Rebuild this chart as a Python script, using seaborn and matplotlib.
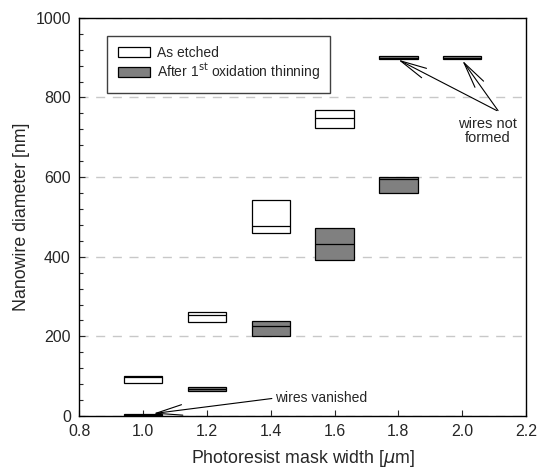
import pandas as pd
import seaborn as sns
import matplotlib.pyplot as plt
from matplotlib.patches import Patch
from matplotlib.ticker import MultipleLocator

# box values (q1, median, q3) in nm
etched_width = [1.0, 1.2, 1.4, 1.6]
etched_q1 = [84, 237, 459, 724]
etched_med = [97, 254, 476, 749]
etched_q3 = [100, 260, 543, 768]

oxid_width = [1.0, 1.2, 1.4, 1.6, 1.8]
oxid_q1 = [0, 63, 202, 391, 561]
oxid_med = [2, 68, 225, 431, 595]
oxid_q3 = [5, 74, 238, 473, 601]

notformed_width = [1.8, 2.0]
notformed_q1 = [897, 897]
notformed_med = [900, 900]
notformed_q3 = [903, 903]


def to_long(widths, q1, med, q3):
    # five points per box so that the quartiles land on q1 / median / q3
    rows = []
    for w, a, m, b in zip(widths, q1, med, q3):
        for v in [a, a, m, b, b]:
            rows.append({"width": w, "diameter": v})
    return pd.DataFrame(rows)


df_etched = to_long(etched_width, etched_q1, etched_med, etched_q3)
df_oxid = to_long(oxid_width, oxid_q1, oxid_med, oxid_q3)
df_nf = to_long(notformed_width, notformed_q1, notformed_med, notformed_q3)

sns.set_style("white")
plt.rcParams["font.family"] = ["Liberation Sans", "DejaVu Sans"]

fig = plt.figure(figsize=(5.38, 4.69), dpi=100)
ax = fig.add_axes([0.147, 0.113, 0.831, 0.849])

gray = "#808080"
box_kw = dict(x="width", y="diameter", native_scale=True, orient="x", width=0.6,
              linecolor="black", linewidth=0.9, whis=0, showcaps=False,
              showfliers=False, saturation=1, ax=ax)
sns.boxplot(data=df_etched, color="white", **box_kw)
sns.boxplot(data=df_oxid, color=gray, **box_kw)
sns.boxplot(data=df_nf, color=gray, **box_kw)

ax.set_xlim(0.8, 2.2)
ax.set_ylim(0, 1000)
ax.set_xticks([0.8, 1.0, 1.2, 1.4, 1.6, 1.8, 2.0, 2.2])
ax.set_xticklabels(["0.8", "1.0", "1.2", "1.4", "1.6", "1.8", "2.0", "2.2"])
ax.set_yticks([0, 200, 400, 600, 800, 1000])
ax.yaxis.set_minor_locator(MultipleLocator(40))
ax.tick_params(axis="both", which="major", direction="in", length=4, width=0.8,
               labelsize=11.5, left=True, bottom=True, pad=6)
ax.tick_params(axis="y", which="minor", direction="in", length=3, width=0.8, left=True)

ax.yaxis.grid(True, color="#c8c8c8", linestyle=(0, (6.5, 5.5)), linewidth=1)
ax.set_axisbelow(True)
for s in ax.spines.values():
    s.set_color("black")
    s.set_linewidth(1)

ax.set_xlabel("Photoresist mask width [$\\mu$m]", fontsize=12.8, labelpad=6)
ax.set_ylabel("Nanowire diameter [nm]", fontsize=12.8, labelpad=4)

handles = [Patch(facecolor="white", edgecolor="black", linewidth=0.9, label="As etched"),
           Patch(facecolor=gray, edgecolor="black", linewidth=0.9,
                 label="After 1$^{\\mathrm{st}}$ oxidation thinning")]
leg = ax.legend(handles=handles, loc="upper left", bbox_to_anchor=(0.063, 0.955),
                borderaxespad=0, fancybox=False, framealpha=1, fontsize=10,
                handlelength=2.3, handleheight=0.7, borderpad=0.75, labelspacing=0.1,
                handletextpad=0.5)
leg.get_frame().set_edgecolor("#404040")
leg.get_frame().set_linewidth(1)

arrow = dict(arrowstyle="->,head_length=1.9,head_width=0.38", color="black",
             linewidth=0.8, shrinkA=0, shrinkB=0)
ax.annotate("wires vanished", xy=(1.032, 6), xytext=(1.414, 45), fontsize=10,
            ha="left", va="center", arrowprops=dict(arrow, relpos=(0, 0.5)))

ax.text(2.078, 752, "wires not\nformed", fontsize=10.5, ha="center", va="top",
        multialignment="center", linespacing=1.0)
ax.annotate("", xy=(1.799, 895), xytext=(2.108, 767), arrowprops=arrow)
ax.annotate("", xy=(2.0, 893), xytext=(2.112, 767), arrowprops=arrow)

plt.savefig("out.png", dpi=100)
